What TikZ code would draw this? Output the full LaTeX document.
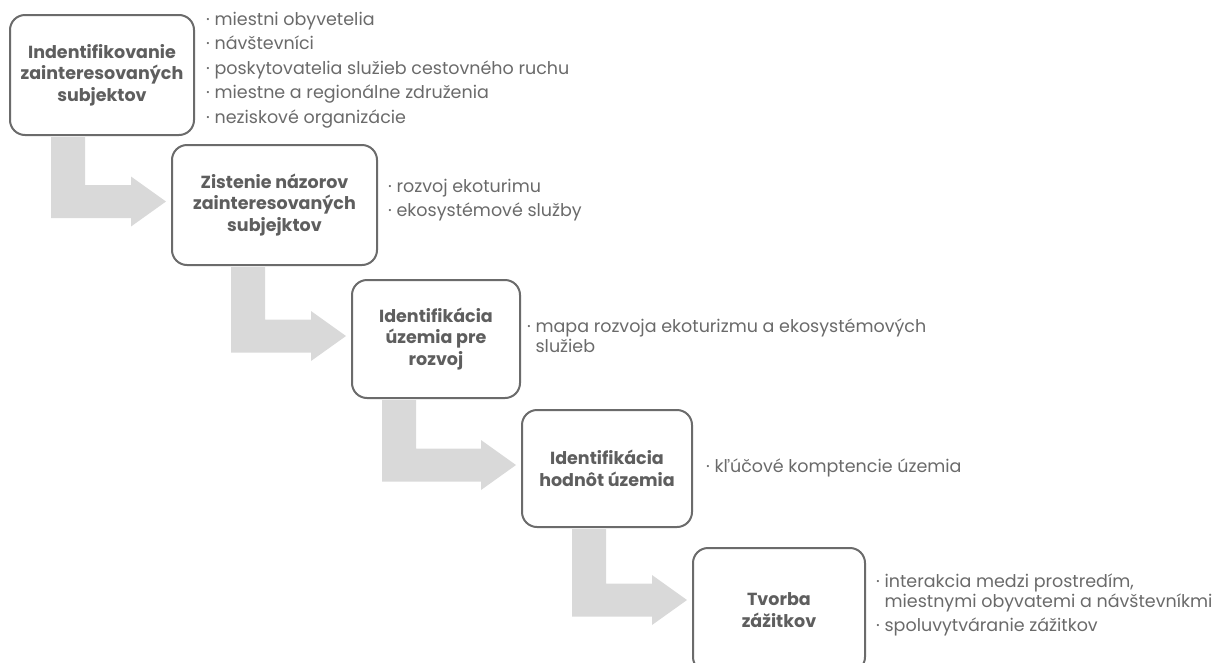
\documentclass[tikz,border=0pt]{standalone}
\usepackage{fontspec}
\setmainfont{Poppins}
\usetikzlibrary{positioning,calc}

\definecolor{boxline}{HTML}{6B6B6B}
\definecolor{titlegray}{HTML}{5E5E5E}
\definecolor{listgray}{HTML}{6A6A6A}
\definecolor{flowgray}{HTML}{D9D9D9}

\tikzset{
  stage/.style={draw=boxline, line width=2pt, rounded corners=15pt, fill=white,
    align=center, text=titlegray, inner sep=0pt,
    font=\bfseries\fontsize{17.5}{21.5}\selectfont},
  items/.style={anchor=west, align=left, text=listgray, inner sep=0pt,
    font=\fontsize{17.5}{20}\selectfont},
  flow/.style={fill=flowgray, draw=none}
}

% L-shaped grey arrow: from box #1 down, then right into box #2
% #3 = stem offset from left side, #4 = lift of the band above the box centre
\newcommand{\flowarrow}[4]{%
  \fill[flow] let \p1=(#1.south west), \p2=(#2.west) in
    (\x1+#3, \y1-1pt) -- (\x1+#3+34pt, \y1-1pt) -- (\x1+#3+34pt, \y2+#4+16.5pt)
    -- (\x2-40pt, \y2+#4+16.5pt) -- (\x2-40pt, \y2+#4+25pt) -- (\x2-5pt, \y2+#4)
    -- (\x2-40pt, \y2+#4-25pt) -- (\x2-40pt, \y2+#4-16.5pt) -- (\x1+#3, \y2+#4-16.5pt)
    -- cycle;}
\newcommand{\dotitem}{\textperiodcentered\ }
\newcommand{\dotgap}{\hphantom{\textperiodcentered\ }}

\begin{document}
\begin{tikzpicture}[x=1pt, y=-1pt]
  \useasboundingbox (0,0) rectangle (1219,662);

  % Stages
  \node[stage, minimum width=184pt, minimum height=120pt] (stakeholders) at (102,75)
    {Indentifikovanie\\zainteresovaných\\subjektov};
  \node[stage, minimum width=205pt, minimum height=120pt] (opinions) at (274.5,205)
    {Zistenie názorov\\zainteresovaných\\subjejktov};
  \node[stage, minimum width=168pt, minimum height=118pt] (area) at (436,339)
    {Identifikácia\\územia pre\\rozvoj};
  \node[stage, minimum width=170pt, minimum height=117pt] (values) at (607,468.5)
    {Identifikácia\\hodnôt územia};
  \node[stage, minimum width=172pt, minimum height=124pt] (experience) at (779,610)
    {Tvorba\\zážitkov};

  % Arrows
  \flowarrow{stakeholders}{opinions}{42pt}{3.5pt}
  \flowarrow{opinions}{area}{60pt}{3pt}
  \flowarrow{area}{values}{31pt}{3.5pt}
  \flowarrow{values}{experience}{51pt}{10pt}

  % Lists
  \node[items, right=11pt of stakeholders.east, yshift=5pt] (stakeholders-list)
    {\dotitem miestni obyvetelia\\[4.5pt]
     \dotitem návštevníci\\[4.5pt]
     \dotitem poskytovatelia služieb cestovného ruchu\\[4.5pt]
     \dotitem miestne a regionálne združenia\\[4.5pt]
     \dotitem neziskové organizácie};
  \node[items, right=10pt of opinions.east, yshift=5pt] (opinions-list)
    {\dotitem rozvoj ekoturimu\\[4.5pt]
     \dotitem ekosystémové služby};
  \node[items, right=6pt of area.east, yshift=3pt] (area-list)
    {\dotitem mapa rozvoja ekoturizmu a ekosystémových\\
     \dotgap služieb};
  \node[items, right=13pt of values.east, yshift=1pt] (values-list)
    {\dotitem kľúčové komptencie územia};
  \node[items, right=10pt of experience.east, yshift=5pt] (experience-list)
    {\dotitem interakcia medzi prostredím,\\
     \dotgap miestnymi obyvatemi a návštevníkmi\\[4.5pt]
     \dotitem spoluvytváranie zážitkov};
\end{tikzpicture}
\end{document}
